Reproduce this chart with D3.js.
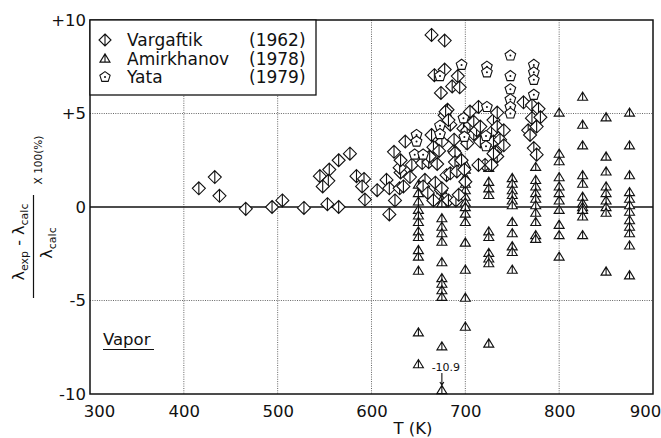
<!DOCTYPE html>
<html>
<head>
<meta charset="utf-8">
<script src="https://cdn.jsdelivr.net/npm/d3@7/dist/d3.min.js"></script>
<style>
  html, body { margin: 0; padding: 0; background: #fff; }
  svg { display: block; font-family: "DejaVu Sans", "Noto Sans", sans-serif; }
</style>
</head>
<body>
<svg id="chart" width="661" height="438"></svg>
<script>
// Deviation of measured thermal conductivity from the correlation, vapor phase

// Vargaftik (1962): temperature (K) and deviation (%)
const vargaftikT = [416,433,438,466,494,505,528,553,565,545,555,554,548,565,577,584,592,590,593,606,
  616,619,625,619,630,631,630,631,624,636,643,641,634,654,657,655,660,661,662,664,
  666,668,670,674,675,675,680,682,684,684,688,688,689,689,690,691,693,696,698,699,
  700,702,664,678,667,678,692,686,694,674,681,678,679,682,666,672,702,705,705,709,
  709,712,714,716,716,728,730,730,732,734,734,737,741,741,734,721,728,714,730,762,
  771,778,771,780,767,776,769,773,776];
const vargaftikDev = [1.0,1.6,0.6,-0.1,0.0,0.35,-0.05,0.15,0.0,1.65,2.0,1.4,1.1,2.5,2.85,1.65,1.5,1.1,0.4,0.9,
  1.45,1.0,0.35,-0.4,1.0,1.85,2.1,2.5,2.95,3.5,2.25,1.6,1.1,2.35,1.45,1.1,0.75,2.4,2.7,3.85,
  0.35,1.3,2.3,0.9,3.5,1.0,1.7,0.35,4.4,1.8,3.0,3.6,2.9,2.4,0.35,1.9,0.65,2.5,4.2,2.0,
  1.35,3.4,9.2,8.9,7.05,7.35,7.0,6.45,6.4,6.1,5.2,4.9,5.1,4.65,3.2,3.0,4.1,5.1,4.4,4.55,
  3.9,4.1,5.35,4.3,3.5,4.0,4.65,3.5,2.95,5.05,4.3,3.6,4.1,3.3,2.7,2.25,2.25,2.25,2.85,5.6,
  5.45,5.25,4.75,4.8,4.1,4.3,3.85,3.15,2.8];

// Amirkhanov (1978): isotherms and the deviations measured along each
const amirkhanovT = [650,675,700,725,750,775,800,825,850,875];
const amirkhanovDev = [
  [1.2,0.75,0.3,-0.15,-0.45,-0.8,-1.3,-1.6,-2.3,-2.65,-3.4,-6.7,-8.4],
  [0.9,0.4,0.2,-0.6,-1.05,-1.4,-1.85,-2.95,-3.8,-4.1,-4.45,-4.8,-7.45,-10.9],
  [2.3,2.0,1.6,1.25,0.9,0.55,0.25,0.0,-0.35,-0.8,-1.9,-3.35,-4.85,-6.4],
  [2.1,1.35,1.0,0.65,-1.3,-1.6,-2.45,-2.75,-3.0,-7.3],
  [1.55,1.25,0.9,0.65,0.35,0.1,-0.8,-1.4,-2.1,-2.4,-3.35],
  [2.15,1.45,1.1,0.75,0.45,0.1,-0.3,-0.8,-1.5,-1.7],
  [5.05,2.85,2.45,1.6,1.1,0.75,0.35,-0.15,-0.95,-1.5,-2.65],
  [5.9,4.4,3.3,1.7,1.25,0.55,0.2,0.0,-0.15,-0.5,-1.5],
  [4.8,2.7,1.9,1.1,0.75,0.35,0.0,-0.3,-3.45],
  [5.05,3.3,1.7,0.8,0.45,0.1,-0.25,-0.7,-1.05,-1.4,-2.05,-3.65]
];

// Yata (1979)
const yataT = [696,673,723,723,748,773,773,773,748,748,748,748,748,773,723,698,673,673,699,648,648,646,655,722,722];
const yataDev = [7.6,7.0,7.5,7.2,8.1,7.6,7.2,6.8,7.0,6.3,5.75,5.35,5.0,6.0,5.35,4.75,4.35,3.9,3.75,3.85,3.5,2.8,2.8,3.8,3.25];

const xTicks = [300,400,500,600,700,800,900];
const yTicks = [10,5,0,-5,-10];
const yTickLabels = ["+10","+5","0","-5","-10"];
const legendNames = ["Vargaftik","Amirkhanov","Yata"];
const legendYears = ["(1962)","(1978)","(1979)"];

const svg = d3.select("#chart");
const M = {left: 90, right: 653, top: 20, bottom: 394};
const x = d3.scaleLinear().domain([300, 900]).range([M.left, M.right]);
const y = d3.scaleLinear().domain([-10, 10]).range([M.bottom, M.top]);
const ink = "#111";

// dotted grid
const grid = svg.append("g");
grid.selectAll("line.gx").data(xTicks.slice(1, -1)).join("line")
  .attr("x1", d => x(d)).attr("x2", d => x(d)).attr("y1", M.top).attr("y2", M.bottom)
  .attr("stroke", "#555").attr("stroke-width", 0.9).attr("stroke-dasharray", "1,1.3");
grid.selectAll("line.gy").data([5, -5]).join("line")
  .attr("x1", M.left).attr("x2", M.right).attr("y1", d => y(d)).attr("y2", d => y(d))
  .attr("stroke", "#555").attr("stroke-width", 0.9).attr("stroke-dasharray", "1,1.3");
// zero line
svg.append("line").attr("x1", M.left).attr("x2", M.right).attr("y1", y(0)).attr("y2", y(0))
  .attr("stroke", ink).attr("stroke-width", 1.3);

// axes (ticks hidden, labels only); end labels nudged inward
const xAxis = svg.append("g").attr("transform", `translate(0,${M.bottom})`)
  .call(d3.axisBottom(x).tickValues(xTicks).tickSize(0).tickPadding(11).tickFormat(d3.format("d")));
xAxis.select(".domain").remove();
xAxis.selectAll("text").attr("font-size", 16.5).attr("fill", ink).attr("font-family", "DejaVu Sans")
  .attr("dx", d => d === 300 ? 9 : (d === 900 ? -8 : 0));

const yAxis = svg.append("g").attr("transform", `translate(${M.left},0)`)
  .call(d3.axisLeft(y).tickValues(yTicks).tickSize(0).tickPadding(4)
    .tickFormat((d, i) => yTickLabels[i]));
yAxis.select(".domain").remove();
yAxis.selectAll("text").attr("font-size", 16.5).attr("fill", ink).attr("font-family", "DejaVu Sans");

// frame
svg.append("rect").attr("x", M.left).attr("y", M.top)
  .attr("width", M.right - M.left).attr("height", M.bottom - M.top)
  .attr("fill", "none").attr("stroke", ink).attr("stroke-width", 1.5);

// marker shapes
function diamondPath(r) {
  return `M0,${-r}L${r},0L0,${r}L${-r},0Z M0,${-r}L0,${r}`;
}
function trianglePath() {
  return "M-5,3.6L0,-4.6L5,3.6Z M0,-4.6L0,3.6";
}
function pentagonPath(r) {
  const pts = d3.range(5).map(i => {
    const a = -Math.PI / 2 + i * 2 * Math.PI / 5;
    return [r * Math.cos(a), r * Math.sin(a)];
  });
  return "M" + pts.map(p => p.join(",")).join("L") + "Z";
}

const marks = svg.append("g");
const yBottomClamp = v => Math.min(y(v), M.bottom - 4);

// Amirkhanov triangles
const amirPts = [];
amirkhanovT.forEach((t, i) => amirkhanovDev[i].forEach(v => amirPts.push({t, v})));
marks.selectAll("path.amir").data(amirPts).join("path")
  .attr("transform", d => `translate(${x(d.t)},${yBottomClamp(d.v)})`)
  .attr("d", trianglePath())
  .attr("fill", "#fff").attr("stroke", ink).attr("stroke-width", 1.1);

// Vargaftik diamonds
marks.selectAll("path.varg").data(vargaftikT.map((t, i) => ({t, v: vargaftikDev[i]}))).join("path")
  .attr("transform", d => `translate(${x(d.t)},${y(d.v)})`)
  .attr("d", diamondPath(6.5))
  .attr("fill", "#fff").attr("stroke", ink).attr("stroke-width", 1.1);

// Yata pentagons
const yataG = marks.selectAll("g.yata").data(yataT.map((t, i) => ({t, v: yataDev[i]}))).join("g")
  .attr("transform", d => `translate(${x(d.t)},${y(d.v)})`);
yataG.append("path").attr("d", pentagonPath(5.6))
  .attr("fill", "#fff").attr("stroke", ink).attr("stroke-width", 1.1);
yataG.append("circle").attr("r", 1).attr("fill", ink);

// off-scale point annotation
const off = amirPts.find(d => d.v < -10);
const ox = x(off.t), oy = yBottomClamp(off.v);
svg.append("path").attr("d", `M${ox},${oy - 17}L${ox},${oy - 5}M${ox - 2},${oy - 8}L${ox},${oy - 5}L${ox + 2},${oy - 8}`)
  .attr("fill", "none").attr("stroke", ink).attr("stroke-width", 1.1);
svg.append("text").attr("x", ox + 4).attr("y", oy - 19).attr("text-anchor", "middle")
  .attr("font-size", 11).attr("fill", ink).text(d3.format(".1f")(off.v).replace("−", "-"));

// legend
const lg = svg.append("g");
lg.append("rect").attr("x", M.left).attr("y", M.top).attr("width", 226).attr("height", 75)
  .attr("fill", "#fff").attr("stroke", ink).attr("stroke-width", 1.3);
const legendShapes = [diamondPath(6), trianglePath(), pentagonPath(5.4)];
legendNames.forEach((name, i) => {
  const cy = 40 + i * 18.5;
  lg.append("path").attr("transform", `translate(105,${cy})`).attr("d", legendShapes[i])
    .attr("fill", "#fff").attr("stroke", ink).attr("stroke-width", 1.1);
  if (i === 2) lg.append("circle").attr("cx", 105).attr("cy", cy).attr("r", 1).attr("fill", ink);
  lg.append("text").attr("x", 127).attr("y", cy + 6).attr("font-size", 17).attr("fill", ink).text(name);
  lg.append("text").attr("x", 249).attr("y", cy + 6).attr("font-size", 17).attr("fill", ink).text(legendYears[i]);
});

// "Vapor" tag
svg.append("text").attr("x", 103).attr("y", 345).attr("font-size", 16.5).attr("fill", ink).text("Vapor");
svg.append("line").attr("x1", 103).attr("x2", 154).attr("y1", 349.5).attr("y2", 349.5)
  .attr("stroke", ink).attr("stroke-width", 1.2);

// x-axis title
svg.append("text").attr("x", 413).attr("y", 434).attr("text-anchor", "middle")
  .attr("font-size", 16.5).attr("fill", ink).text("T (K)");

// y-axis title: fraction written vertically
const yt = svg.append("g");
const num = yt.append("text").attr("transform", "translate(24,242) rotate(-90)")
  .attr("text-anchor", "middle").attr("font-size", 16).attr("fill", ink);
num.append("tspan").text("λ");
num.append("tspan").attr("font-size", 11).attr("dy", 4).text("exp");
num.append("tspan").attr("dy", -4).text(" - λ");
num.append("tspan").attr("font-size", 11).attr("dy", 4).text("calc");
yt.append("line").attr("x1", 33.5).attr("x2", 33.5).attr("y1", 195).attr("y2", 298)
  .attr("stroke", ink).attr("stroke-width", 1.2);
const den = yt.append("text").attr("transform", "translate(52,243) rotate(-90)")
  .attr("text-anchor", "middle").attr("font-size", 16).attr("fill", ink);
den.append("tspan").text("λ");
den.append("tspan").attr("font-size", 11).attr("dy", 4).text("calc");
yt.append("text").attr("transform", "translate(42,160) rotate(-90)")
  .attr("text-anchor", "middle").attr("font-size", 10.5).attr("fill", ink).text("X 100(%)");
</script>
</body>
</html>
